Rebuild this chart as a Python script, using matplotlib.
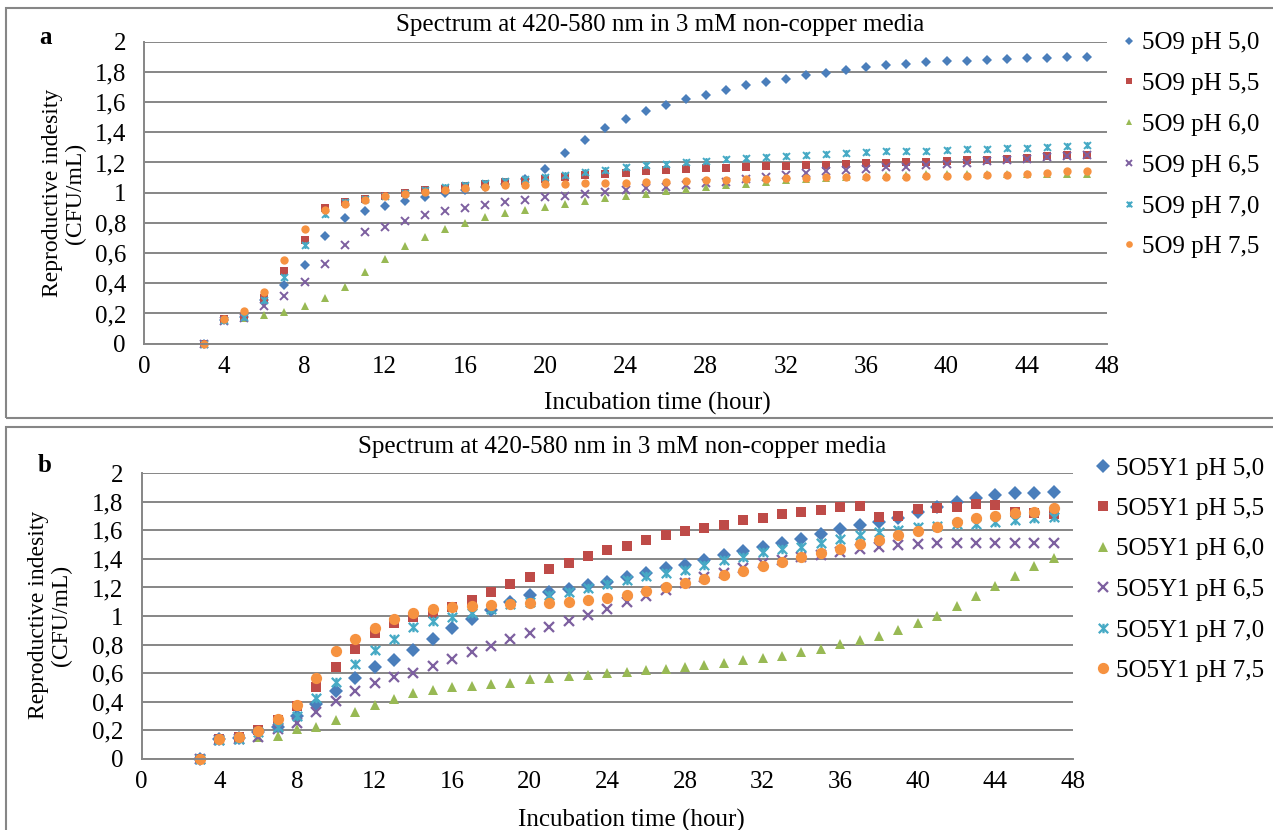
import numpy as np
import matplotlib
matplotlib.use("Agg")
import matplotlib.pyplot as plt
from matplotlib.path import Path
from matplotlib.patches import Rectangle

plt.rcParams['font.family'] = ['Liberation Serif', 'DejaVu Serif']

# incubation hours (x values)
hours = np.arange(3, 48)

# panel a: strain 5O9
a_ph50 = [0, 0.16, 0.18, 0.29, 0.39, 0.52, 0.71, 0.83, 0.88, 0.91,
          0.945, 0.97, 1.0, 1.02, 1.04, 1.06, 1.09, 1.16, 1.26, 1.35,
          1.43, 1.49, 1.54, 1.58, 1.62, 1.65, 1.68, 1.71, 1.73, 1.75,
          1.78, 1.795, 1.815, 1.835, 1.845, 1.855, 1.865, 1.87, 1.875, 1.88,
          1.885, 1.89, 1.895, 1.9, 1.9]
a_ph55 = [0, 0.165, 0.18, 0.30, 0.48, 0.69, 0.90, 0.94, 0.956, 0.978,
          0.998, 1.015, 1.026, 1.044, 1.057, 1.07, 1.08, 1.093, 1.105, 1.116,
          1.124, 1.132, 1.141, 1.15, 1.155, 1.161, 1.166, 1.17, 1.174, 1.179,
          1.183, 1.185, 1.19, 1.194, 1.199, 1.2, 1.205, 1.21, 1.214, 1.218,
          1.225, 1.232, 1.24, 1.247, 1.252]
a_ph60 = [0, 0.16, 0.17, 0.19, 0.21, 0.247, 0.30, 0.375, 0.472, 0.558,
          0.645, 0.709, 0.757, 0.80, 0.837, 0.865, 0.887, 0.905, 0.925, 0.943,
          0.962, 0.98, 0.993, 1.009, 1.024, 1.04, 1.049, 1.06, 1.07, 1.082,
          1.088, 1.097, 1.106, 1.113, 1.117, 1.119, 1.124, 1.124, 1.124, 1.124,
          1.124, 1.124, 1.125, 1.126, 1.126]
a_ph65 = [0, 0.15, 0.168, 0.25, 0.318, 0.41, 0.528, 0.653, 0.742, 0.775,
          0.815, 0.852, 0.881, 0.898, 0.918, 0.936, 0.954, 0.971, 0.98, 0.992,
          1.007, 1.016, 1.029, 1.04, 1.05, 1.062, 1.073, 1.093, 1.104, 1.115,
          1.13, 1.141, 1.148, 1.159, 1.168, 1.172, 1.183, 1.19, 1.199, 1.208,
          1.214, 1.223, 1.234, 1.243, 1.252]
a_ph70 = [0, 0.157, 0.18, 0.29, 0.44, 0.653, 0.859, 0.938, 0.958, 0.978,
          1.0, 1.018, 1.035, 1.05, 1.062, 1.077, 1.09, 1.106, 1.118, 1.138,
          1.15, 1.167, 1.181, 1.19, 1.203, 1.212, 1.223, 1.23, 1.238, 1.245,
          1.252, 1.258, 1.263, 1.269, 1.274, 1.278, 1.278, 1.283, 1.287, 1.291,
          1.294, 1.298, 1.302, 1.307, 1.313]
a_ph75 = [0, 0.166, 0.216, 0.342, 0.554, 0.757, 0.883, 0.925, 0.949, 0.978,
          0.991, 1.002, 1.015, 1.029, 1.04, 1.049, 1.05, 1.055, 1.058, 1.062,
          1.064, 1.066, 1.071, 1.073, 1.079, 1.082, 1.084, 1.088, 1.09, 1.095,
          1.097, 1.102, 1.104, 1.104, 1.106, 1.106, 1.108, 1.108, 1.113, 1.115,
          1.119, 1.126, 1.132, 1.141, 1.143]

# panel b: strain 5O5Y1
b_ph50 = [0, 0.14, 0.145, 0.19, 0.22, 0.30, 0.383, 0.474, 0.563, 0.64,
          0.694, 0.759, 0.841, 0.914, 0.979, 1.042, 1.10, 1.145, 1.171, 1.189,
          1.215, 1.24, 1.274, 1.304, 1.336, 1.36, 1.393, 1.425, 1.456, 1.484,
          1.514, 1.542, 1.575, 1.607, 1.636, 1.66, 1.685, 1.73, 1.766, 1.80,
          1.83, 1.846, 1.86, 1.864, 1.871]
b_ph55 = [0, 0.14, 0.15, 0.20, 0.27, 0.37, 0.505, 0.645, 0.766, 0.883,
          0.953, 0.995, 1.019, 1.061, 1.112, 1.171, 1.224, 1.273, 1.326, 1.37,
          1.417, 1.46, 1.494, 1.53, 1.565, 1.593, 1.617, 1.64, 1.671, 1.689,
          1.713, 1.729, 1.743, 1.762, 1.771, 1.692, 1.701, 1.748, 1.757, 1.766,
          1.785, 1.778, 1.73, 1.724, 1.714]
b_ph60 = [0, 0.14, 0.145, 0.15, 0.161, 0.208, 0.224, 0.271, 0.327, 0.374,
          0.416, 0.458, 0.481, 0.505, 0.512, 0.523, 0.53, 0.556, 0.565, 0.577,
          0.588, 0.6, 0.61, 0.621, 0.628, 0.642, 0.654, 0.671, 0.689, 0.706,
          0.722, 0.745, 0.771, 0.801, 0.829, 0.86, 0.902, 0.951, 1.002, 1.07,
          1.14, 1.213, 1.283, 1.348, 1.404]
b_ph65 = [0, 0.13, 0.14, 0.15, 0.206, 0.252, 0.327, 0.404, 0.472, 0.533,
          0.57, 0.60, 0.647, 0.696, 0.745, 0.792, 0.836, 0.879, 0.92, 0.967,
          1.009, 1.051, 1.098, 1.143, 1.182, 1.234, 1.276, 1.30, 1.334, 1.369,
          1.393, 1.411, 1.428, 1.449, 1.467, 1.486, 1.498, 1.505, 1.509, 1.509,
          1.509, 1.509, 1.509, 1.509, 1.509]
b_ph70 = [0, 0.13, 0.14, 0.19, 0.22, 0.30, 0.423, 0.535, 0.661, 0.762,
          0.841, 0.921, 0.963, 0.995, 1.019, 1.051, 1.082, 1.10, 1.145, 1.17,
          1.196, 1.225, 1.255, 1.28, 1.299, 1.322, 1.355, 1.393, 1.411, 1.446,
          1.467, 1.486, 1.514, 1.537, 1.568, 1.591, 1.603, 1.621, 1.631, 1.645,
          1.643, 1.661, 1.673, 1.685, 1.696]
b_ph75 = [0, 0.14, 0.154, 0.194, 0.276, 0.376, 0.563, 0.757, 0.841, 0.914,
          0.979, 1.019, 1.047, 1.063, 1.072, 1.077, 1.084, 1.089, 1.093, 1.099,
          1.112, 1.128, 1.15, 1.173, 1.206, 1.229, 1.259, 1.29, 1.318, 1.35,
          1.381, 1.411, 1.444, 1.472, 1.505, 1.533, 1.565, 1.596, 1.624, 1.657,
          1.685, 1.701, 1.72, 1.731, 1.755]

ph_labels = ["pH 5,0", "pH 5,5", "pH 6,0", "pH 6,5", "pH 7,0", "pH 7,5"]
x_ticks = list(range(0, 49, 4))
y_ticks = [0, 0.2, 0.4, 0.6, 0.8, 1.0, 1.2, 1.4, 1.6, 1.8, 2.0]
y_ticklabels = ["0", "0,2", "0,4", "0,6", "0,8", "1", "1,2", "1,4", "1,6", "1,8", "2"]

colors = ['#4A7EBB', '#BE4B48', '#98B954', '#7D60A0', '#46AAC5', '#F69240']
# excel style "star": an x with a vertical bar through it
star = Path([(-1, -1), (1, 1), (-1, 1), (1, -1), (0, -1), (0, 1)],
            [Path.MOVETO, Path.LINETO, Path.MOVETO, Path.LINETO, Path.MOVETO, Path.LINETO])
markers = ['D', 's', '^', 'x', star, 'o']
grey = '#868686'
fs = 18

W, H = 1273, 830
fig = plt.figure(figsize=(W / 100, H / 100), dpi=100)


def fx(px):
    return px / W


def fy(py):
    return 1 - py / H


def draw_panel(box, series, prefix, ms_scale, leg_xy, leg_dx, leg_sp, title_xy, xlab_xy, ylab_xy, tag_xy, tag):
    left, top, right, bottom = box
    ax = fig.add_axes([fx(left), fy(bottom), fx(right - left), fy(top) - fy(bottom)])
    sizes = [5.0, 5.5, 5.5, 5.5, 5.0, 6.0]
    for vals, lab, c, m, s in zip(series, ph_labels, colors, markers, sizes):
        mew = 1.4 if m in ('x',) or m is star else 0
        ax.plot(hours, vals, linestyle='none', marker=m, ms=s * ms_scale, color=c,
                mec=c, mew=mew * ms_scale ** 0.5, label=prefix + " " + lab, clip_on=False)
    ax.set_xlim(0, 48)
    ax.set_ylim(0, 2)
    ax.set_xticks(x_ticks)
    ax.set_yticks(y_ticks)
    ax.set_yticklabels(y_ticklabels)
    ax.tick_params(length=0, labelsize=fs, pad=13)
    ax.tick_params(axis='x', pad=9)
    ax.grid(axis='y', color=grey, lw=1.4)
    ax.set_axisbelow(True)
    for sp in ('top', 'right'):
        ax.spines[sp].set_visible(False)
    for sp in ('left', 'bottom'):
        ax.spines[sp].set_color(grey)
        ax.spines[sp].set_linewidth(1.4)

    ax.legend(loc='upper left', bbox_to_anchor=(fx(leg_xy[0]), fy(leg_xy[1])),
              bbox_transform=fig.transFigure, frameon=False, fontsize=fs,
              handlelength=0.5, handletextpad=leg_dx, labelspacing=leg_sp,
              borderpad=0, borderaxespad=0, markerscale=0.8 if ms_scale < 1.2 else 1.0)

    fig.text(fx(title_xy[0]), fy(title_xy[1]), "Spectrum at 420-580 nm in 3 mM non-copper media",
             ha='center', va='center', fontsize=fs)
    fig.text(fx(xlab_xy[0]), fy(xlab_xy[1]), "Incubation time (hour)",
             ha='center', va='center', fontsize=fs)
    fig.text(fx(ylab_xy[0]), fy(ylab_xy[1]), "Reproductive indesity\n(CFU/mL)",
             ha='center', va='center', rotation=90, fontsize=17, multialignment='center',
             linespacing=1.15)
    fig.text(fx(tag_xy[0]), fy(tag_xy[1]), tag, ha='center', va='center',
             fontsize=fs, fontweight='bold')
    return ax


series_a = [a_ph50, a_ph55, a_ph60, a_ph65, a_ph70, a_ph75]
series_b = [b_ph50, b_ph55, b_ph60, b_ph65, b_ph70, b_ph75]

draw_panel((144, 41.7, 1107, 343.7), series_a, "5O9", 1.0, (1123, 32), 0.24, 0.73,
           (660, 25), (657, 403), (64, 193), (45, 38), 'a')
draw_panel((141.7, 473.3, 1073, 758.7), series_b, "5O5Y1", 1.35, (1097, 457), 0.27, 0.72,
           (622, 447), (631, 820), (50, 615), (45, 465), 'b')

# outer panel frames
fig.add_artist(Rectangle((fx(6), fy(418)), 1.0, fy(8) - fy(418), transform=fig.transFigure,
                         fill=False, edgecolor=grey, lw=1.5))
fig.add_artist(Rectangle((fx(6), -0.05), 1.0, fy(427) + 0.05, transform=fig.transFigure,
                         fill=False, edgecolor=grey, lw=1.5))

fig.savefig("out.png", dpi=100)
